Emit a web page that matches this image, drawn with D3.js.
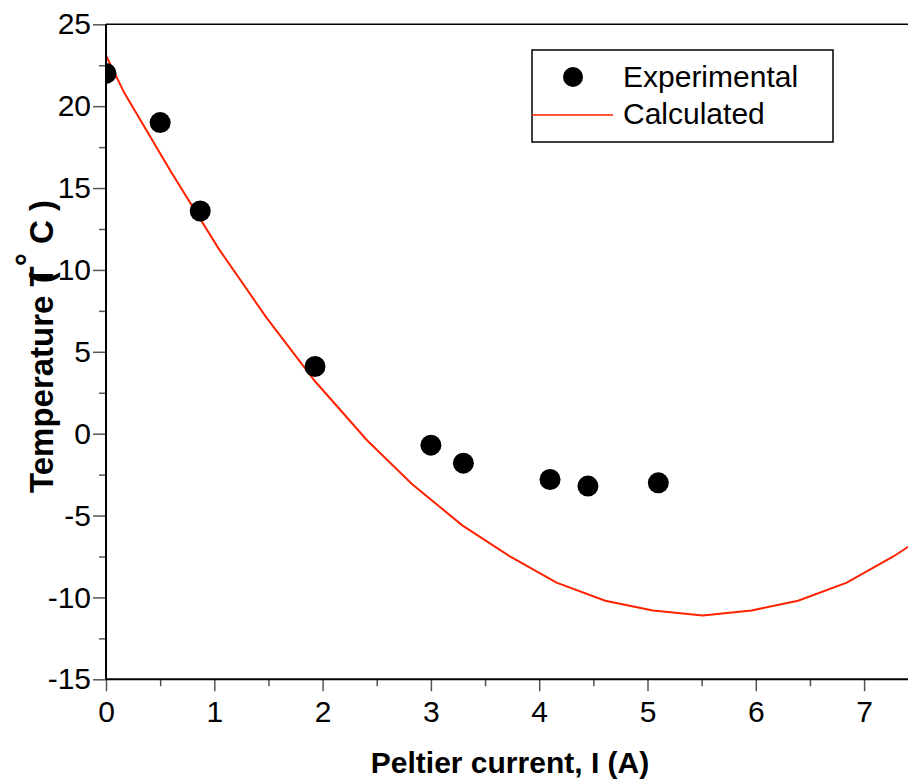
<!doctype html>
<html lang="en">
<head>
    <meta charset="utf-8">
    <title>Peltier current vs temperature</title>
    <script src="https://cdnjs.cloudflare.com/ajax/libs/d3/7.8.5/d3.min.js"></script>
    <style>
        body { margin: 0; background: #fff; }
        svg { display: block; font-family: "Liberation Sans", Arial, sans-serif; }
    </style>
</head>
<body>
<script>
    // Experimental points
    let expCurrent = [0, 0.5, 0.87, 1.93, 3.0, 3.3, 4.1, 4.45, 5.1]
    let expTemp = [22.0, 19.0, 13.6, 4.1, -0.7, -1.8, -2.8, -3.2, -3.0]

    // Calculated curve (polyline vertices)
    let calcCurrent = [0, 0.17, 0.6, 1.04, 1.48, 1.93, 2.41, 2.83, 3.29, 3.73, 4.16, 4.61, 5.05, 5.51, 5.96, 6.39, 6.84, 7.27, 7.71]
    let calcTemp = [23.1, 20.8, 16.0, 11.3, 7.1, 3.2, -0.4, -3.1, -5.6, -7.5, -9.1, -10.2, -10.8, -11.1, -10.8, -10.2, -9.1, -7.5, -5.6]

    let xMajor = [0, 1, 2, 3, 4, 5, 6, 7]
    let xMinor = [0.5, 1.5, 2.5, 3.5, 4.5, 5.5, 6.5]
    let yMajor = [-15, -10, -5, 0, 5, 10, 15, 20, 25]
    let yMinor = [-12.5, -7.5, -2.5, 2.5, 7.5, 12.5, 17.5, 22.5]

    let legendLabels = ["Experimental", "Calculated"]

    let width = 908
    let height = 781
    let plotLeft = 106, plotTop = 24.3, plotBottom = 679.3

    let x = d3.scaleLinear().domain([0, 7.5]).range([plotLeft, plotLeft + 108.3 * 7.5])
    let y = d3.scaleLinear().domain([-15, 25]).range([plotBottom, plotTop])

    const svg = d3.select("body").append("svg")
        .attr("width", width)
        .attr("height", height)

    svg.append("defs").append("clipPath")
        .attr("id", "plot")
        .append("rect")
        .attr("x", plotLeft).attr("y", plotTop)
        .attr("width", width - plotLeft).attr("height", plotBottom - plotTop)

    // plain hyphen for negatives, like the original
    let fmt = d => String(d)

    // minor ticks first, then the major ones with labels
    svg.append("g")
        .attr("transform", `translate(0,${plotBottom})`)
        .call(d3.axisBottom(x).tickValues(xMinor).tickSize(7).tickFormat(""))
        .call(g => g.select(".domain").remove())
        .call(g => g.selectAll("line").attr("stroke", "#555").attr("stroke-width", 1.5))

    svg.append("g")
        .attr("transform", `translate(0,${plotBottom})`)
        .call(d3.axisBottom(x).tickValues(xMajor).tickSize(12).tickPadding(9).tickFormat(fmt))
        .call(g => g.select(".domain").remove())
        .call(g => g.selectAll("line").attr("stroke", "#555").attr("stroke-width", 1.5))
        .call(g => g.selectAll("text").attr("font-size", 30).attr("fill", "#000")
            .attr("font-family", "Liberation Sans, Arial, sans-serif"))

    svg.append("g")
        .attr("transform", `translate(${plotLeft},0)`)
        .call(d3.axisLeft(y).tickValues(yMinor).tickSize(7).tickFormat(""))
        .call(g => g.select(".domain").remove())
        .call(g => g.selectAll("line").attr("stroke", "#555").attr("stroke-width", 1.5))

    svg.append("g")
        .attr("transform", `translate(${plotLeft},0)`)
        .call(d3.axisLeft(y).tickValues(yMajor).tickSize(13).tickPadding(2).tickFormat(fmt))
        .call(g => g.select(".domain").remove())
        .call(g => g.selectAll("line").attr("stroke", "#555").attr("stroke-width", 1.5))
        .call(g => g.selectAll("text").attr("font-size", 30).attr("fill", "#000")
            .attr("font-family", "Liberation Sans, Arial, sans-serif"))

    // data
    const plot = svg.append("g").attr("clip-path", "url(#plot)")

    let line = d3.line()
        .x((d, i) => x(calcCurrent[i]))
        .y(d => y(d))

    plot.append("path")
        .datum(calcTemp)
        .attr("fill", "none")
        .attr("stroke", "#ff2200")
        .attr("stroke-width", 2)
        .attr("d", line)

    plot.selectAll("circle")
        .data(expTemp)
        .join("circle")
        .attr("cx", (d, i) => x(expCurrent[i]))
        .attr("cy", d => y(d))
        .attr("r", 10.5)
        .attr("fill", "#000")

    // frame lines
    svg.append("line")
        .attr("x1", plotLeft).attr("x2", plotLeft).attr("y1", plotTop).attr("y2", plotBottom)
        .attr("stroke", "#000").attr("stroke-width", 2)
    svg.append("line")
        .attr("x1", plotLeft).attr("x2", width).attr("y1", plotBottom).attr("y2", plotBottom)
        .attr("stroke", "#000").attr("stroke-width", 2)
    svg.append("line")
        .attr("x1", plotLeft).attr("x2", width).attr("y1", plotTop).attr("y2", plotTop)
        .attr("stroke", "#000").attr("stroke-width", 1.5)

    // legend
    const legend = svg.append("g")
    legend.append("rect")
        .attr("x", 532).attr("y", 50)
        .attr("width", 301).attr("height", 92)
        .attr("fill", "#fff").attr("stroke", "#000").attr("stroke-width", 1.5)
    legend.append("circle")
        .attr("cx", 573).attr("cy", 77).attr("r", 10)
        .attr("fill", "#000")
    legend.append("line")
        .attr("x1", 532).attr("x2", 613).attr("y1", 115).attr("y2", 115)
        .attr("stroke", "#ff2200").attr("stroke-width", 1.5)
    legend.selectAll("text")
        .data(legendLabels)
        .join("text")
        .attr("x", 623)
        .attr("y", (d, i) => 87 + i * 37)
        .attr("font-size", 30)
        .text(d => d)

    // axis titles
    svg.append("text")
        .attr("x", 510).attr("y", 773)
        .attr("text-anchor", "middle")
        .attr("font-size", 30)
        .attr("font-weight", "bold")
        .text("Peltier current, I (A)")

    const ytitle = svg.append("text")
        .attr("transform", "translate(53,493) rotate(-90)")
        .attr("font-size", 33)
        .attr("font-weight", "bold")
    ytitle.append("tspan").text("Temperature T")
    ytitle.append("tspan").attr("dx", -17).text("(")
    ytitle.append("tspan").attr("dx", 6).attr("dy", -14).text("°")
    ytitle.append("tspan").attr("dx", 9).attr("dy", 14).text("C )")
</script>
</body>
</html>
